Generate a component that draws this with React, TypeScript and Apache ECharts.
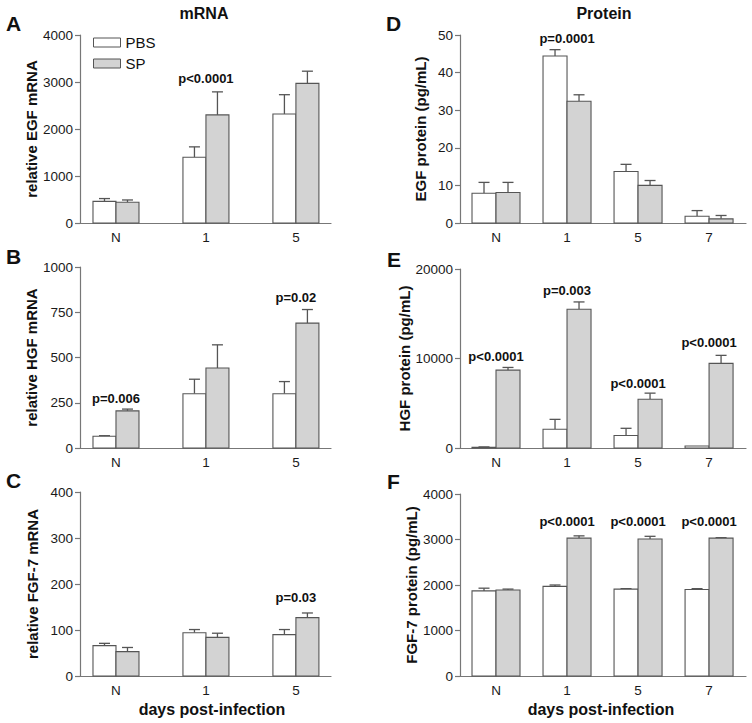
import React, { useEffect, useRef } from "react";
import * as echarts from "echarts";

// ---------- data ----------
const mrnaDays = ["N", "1", "5"];
const proteinDays = ["N", "1", "5", "7"];

const egfMrnaPBS = [460, 1400, 2320];
const egfMrnaPBSErr = [60, 220, 410];
const egfMrnaSP = [440, 2300, 2970];
const egfMrnaSPErr = [50, 490, 260];

const hgfMrnaPBS = [65, 300, 300];
const hgfMrnaPBSErr = [3, 80, 67];
const hgfMrnaSP = [205, 442, 690];
const hgfMrnaSPErr = [10, 128, 75];

const fgfMrnaPBS = [66, 94, 90];
const fgfMrnaPBSErr = [5, 7, 11];
const fgfMrnaSP = [53, 84, 127];
const fgfMrnaSPErr = [9, 9, 10];

const egfProtPBS = [7.9, 44.4, 13.7, 1.8];
const egfProtPBSErr = [2.9, 1.7, 1.9, 1.5];
const egfProtSP = [8.1, 32.4, 10.0, 1.1];
const egfProtSPErr = [2.7, 1.7, 1.3, 0.9];

const hgfProtPBS = [80, 2100, 1400, 220];
const hgfProtPBSErr = [40, 1100, 800, 0];
const hgfProtSP = [8700, 15500, 5450, 9450];
const hgfProtSPErr = [300, 820, 680, 900];

const fgfProtPBS = [1870, 1970, 1910, 1900];
const fgfProtPBSErr = [60, 30, 10, 20];
const fgfProtSP = [1890, 3030, 3010, 3030];
const fgfProtSPErr = [20, 50, 60, 10];

// p-value annotations: [category index, y value (data units), text]
const pLabelsA = [[1, 3085, "p<0.0001"]];
const pLabelsB = [[0, 271, "p=0.006"], [2, 834, "p=0.02"]];
const pLabelsC = [[2, 170, "p=0.03"]];
const pLabelsD = [[1, 49.2, "p=0.0001"]];
const pLabelsE = [[0, 10170, "p<0.0001"], [1, 17650, "p=0.003"], [2, 7260, "p<0.0001"], [3, 11840, "p<0.0001"]];
const pLabelsF = [[1, 3385, "p<0.0001"], [2, 3385, "p<0.0001"], [3, 3385, "p<0.0001"]];

const yNames = [
  "relative EGF mRNA",
  "relative HGF mRNA",
  "relative FGF-7 mRNA",
  "EGF protein (pg/mL)",
  "HGF protein (pg/mL)",
  "FGF-7 protein (pg/mL)",
];
const yMax = [4000, 1000, 400, 50, 20000, 4000];
const yInterval = [1000, 250, 100, 10, 10000, 1000];

const FONT = "'Liberation Sans', Arial, Helvetica, sans-serif";
const PBS_FILL = "#ffffff";
const SP_FILL = "#d3d3d3";
const STROKE = "#555555";
const AXIS = "#777777";

export default function App() {
  const ref = useRef<HTMLDivElement>(null);

  useEffect(() => {
    if (!ref.current) return;
    const chart = echarts.init(ref.current, null, { renderer: "svg" });

    const grids = [
      { left: 80, top: 35, width: 251, height: 188 },
      { left: 80, top: 267, width: 251, height: 181 },
      { left: 80, top: 492, width: 251, height: 184 },
      { left: 460, top: 35, width: 286, height: 188 },
      { left: 460, top: 269, width: 286, height: 179 },
      { left: 460, top: 494, width: 286, height: 182 },
    ];

    const xAxes = grids.map((_, i) => {
      const left = i < 3;
      const cats = left ? mrnaDays : proteinDays;
      return {
        type: "value",
        gridIndex: i,
        min: left ? -0.4 : -0.507,
        max: left ? 2.39 : 3.52,
        splitLine: { show: false },
        axisLine: { show: true, onZero: false, lineStyle: { color: AXIS, width: 1.2 } },
        axisTick: { show: false },
        axisLabel: {
          show: true,
          customValues: cats.map((_, k) => k),
          formatter: (v: number) => cats[Math.round(v)] ?? "",
          color: "#1a1a1a",
          fontFamily: FONT,
          fontSize: 13.5,
          margin: 7,
        },
      };
    });

    const yAxes = grids.map((_, i) => ({
      type: "value",
      gridIndex: i,
      min: 0,
      max: yMax[i],
      interval: yInterval[i],
      name: yNames[i],
      nameLocation: "middle",
      nameGap: i < 3 ? 40 : 32,
      nameTextStyle: { fontFamily: FONT, fontSize: 15, fontWeight: "bold", color: "#111" },
      splitLine: { show: false },
      axisLine: { show: true, onZero: false, lineStyle: { color: AXIS, width: 1.2 } },
      axisTick: { show: true, length: 5, lineStyle: { color: AXIS, width: 1.2 } },
      axisLabel: {
        color: "#1a1a1a",
        fontFamily: FONT,
        fontSize: 13.5,
        margin: 7,
        formatter: (v: number) => String(v),
      },
    }));

    const barSeries = (
      panel: number,
      name: string,
      values: number[],
      errs: number[],
      side: number,
      fill: string
    ) => {
      const W = panel < 3 ? 23 : 24;
      return {
        type: "custom",
        name,
        xAxisIndex: panel,
        yAxisIndex: panel,
        itemStyle: { color: fill, borderColor: STROKE, borderWidth: 1 },
        data: values.map((v, k) => [k, v, errs[k]]),
        encode: { x: 0, y: 1 },
        renderItem: (params: any, api: any) => {
          const x = api.value(0);
          const v = api.value(1);
          const e = api.value(2);
          const base = api.coord([x, 0]);
          const top = api.coord([x, v]);
          const cap = api.coord([x, v + e]);
          const left = side < 0 ? base[0] - W : base[0];
          const cx = left + W / 2;
          const children: any[] = [];
          if (e > 0) {
            children.push({
              type: "line",
              shape: { x1: cx, y1: top[1], x2: cx, y2: cap[1] },
              style: { stroke: STROKE, lineWidth: 1.3 },
            });
            children.push({
              type: "line",
              shape: { x1: cx - 5.5, y1: cap[1], x2: cx + 5.5, y2: cap[1] },
              style: { stroke: STROKE, lineWidth: 1.3 },
            });
          }
          children.push({
            type: "rect",
            shape: { x: left, y: top[1], width: W, height: base[1] - top[1] },
            style: { fill, stroke: STROKE, lineWidth: 1.1 },
          });
          return { type: "group", children };
        },
      };
    };

    const labelSeries = (panel: number, labels: any[]) => ({
      type: "custom",
      name: "p" + panel,
      xAxisIndex: panel,
      yAxisIndex: panel,
      data: labels,
      encode: { x: 0, y: 1 },
      renderItem: (params: any, api: any) => {
        const p = api.coord([api.value(0), api.value(1)]);
        return {
          type: "text",
          x: p[0],
          y: p[1],
          style: {
            text: labels[params.dataIndex][2],
            fontFamily: FONT,
            fontSize: 13,
            fontWeight: "bold",
            fill: "#111",
            align: "center",
            verticalAlign: "middle",
          },
        };
      },
    });

    const series = [
      barSeries(0, "PBS", egfMrnaPBS, egfMrnaPBSErr, -1, PBS_FILL),
      barSeries(0, "SP", egfMrnaSP, egfMrnaSPErr, 1, SP_FILL),
      barSeries(1, "PBS", hgfMrnaPBS, hgfMrnaPBSErr, -1, PBS_FILL),
      barSeries(1, "SP", hgfMrnaSP, hgfMrnaSPErr, 1, SP_FILL),
      barSeries(2, "PBS", fgfMrnaPBS, fgfMrnaPBSErr, -1, PBS_FILL),
      barSeries(2, "SP", fgfMrnaSP, fgfMrnaSPErr, 1, SP_FILL),
      barSeries(3, "PBS", egfProtPBS, egfProtPBSErr, -1, PBS_FILL),
      barSeries(3, "SP", egfProtSP, egfProtSPErr, 1, SP_FILL),
      barSeries(4, "PBS", hgfProtPBS, hgfProtPBSErr, -1, PBS_FILL),
      barSeries(4, "SP", hgfProtSP, hgfProtSPErr, 1, SP_FILL),
      barSeries(5, "PBS", fgfProtPBS, fgfProtPBSErr, -1, PBS_FILL),
      barSeries(5, "SP", fgfProtSP, fgfProtSPErr, 1, SP_FILL),
      labelSeries(0, pLabelsA),
      labelSeries(1, pLabelsB),
      labelSeries(2, pLabelsC),
      labelSeries(3, pLabelsD),
      labelSeries(4, pLabelsE),
      labelSeries(5, pLabelsF),
    ];

    const bigText = (text: string, x: number, y: number, size: number, align = "left") => ({
      type: "text",
      x,
      y,
      style: {
        text,
        fontFamily: FONT,
        fontSize: size,
        fontWeight: "bold",
        fill: "#111",
        align,
        verticalAlign: "middle",
      },
    });

    chart.setOption({
      animation: false,
      backgroundColor: "#ffffff",
      grid: grids,
      xAxis: xAxes,
      yAxis: yAxes,
      legend: {
        orient: "vertical",
        left: 93,
        top: 35,
        padding: 0,
        itemWidth: 27,
        itemHeight: 9,
        itemGap: 6,
        icon: "rect",
        selectedMode: false,
        textStyle: { fontFamily: FONT, fontSize: 15, color: "#111" },
        data: [
          { name: "PBS", itemStyle: { color: PBS_FILL, borderColor: STROKE, borderWidth: 1 } },
          { name: "SP", itemStyle: { color: SP_FILL, borderColor: STROKE, borderWidth: 1 } },
        ],
      },
      graphic: [
        bigText("A", 6, 23, 21),
        bigText("B", 6, 256, 21),
        bigText("C", 6, 480, 21),
        bigText("D", 386, 23, 21),
        bigText("E", 387, 259, 21),
        bigText("F", 387, 481, 21),
        bigText("mRNA", 204, 13, 16, "center"),
        bigText("Protein", 604, 13, 16, "center"),
        bigText("days post-infection", 212, 709, 16, "center"),
        bigText("days post-infection", 601, 709, 16, "center"),
      ],
      series,
    });

    return () => chart.dispose();
  }, []);

  return <div ref={ref} style={{ width: 752, height: 723, position: "absolute", left: 0, top: 0 }} />;
}
